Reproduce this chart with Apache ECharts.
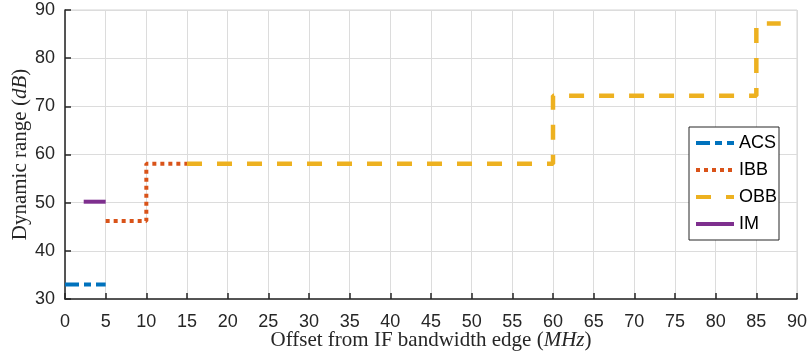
<!DOCTYPE html>
<html>
<head>
<meta charset="utf-8">
<script src="https://cdn.jsdelivr.net/npm/echarts@6/dist/echarts.min.js"></script>
<style>
html,body{margin:0;padding:0;background:#fff;}
#chart{width:809px;height:360px;}
</style>
</head>
<body>
<div id="chart"></div>
<script>
// 数据
var acsX = [0, 5];
var acsY = [33, 33];
var ibbX = [5, 10, 10, 15];
var ibbY = [46.2, 46.2, 58.1, 58.1];
var obbX = [15, 60, 60, 85, 85, 88];
var obbY = [58.1, 58.1, 72.2, 72.2, 87.2, 87.2];
var imX = [2.3, 5];
var imY = [50.2, 50.2];

function pairs(xs, ys){
    var arr = [];
    for (var i = 0; i < xs.length; i++) {
        arr.push([xs[i], ys[i]]);
    }
    return arr;
}

var chart = echarts.init(document.getElementById('chart'));
var labelFont = 'Liberation Sans, Arial, Helvetica, sans-serif';
var serifFont = 'Liberation Serif, Times New Roman, serif';

var option = {
    animation: false,
    backgroundColor: '#fff',
    grid: {
        left: 65, right: 12, top: 10, bottom: 61,
        containLabel: false,
        outerBoundsMode: 'none',
        show: true, borderColor: '#d4d4d4', borderWidth: 1
    },
    legend: {
        orient: 'vertical',
        left: 689, top: 127,
        itemWidth: 38, itemHeight: 14,
        itemGap: 9,
        padding: [7, 2, 7, 5],
        backgroundColor: '#fff',
        borderColor: '#262626',
        borderWidth: 1,
        borderRadius: 0,
        itemStyle: {opacity: 0},
        lineStyle: {width: 4},
        textStyle: {fontSize: 18, color: '#000', fontFamily: labelFont},
        data: ['ACS', 'IBB', 'OBB', 'IM']
    },
    xAxis: {
        type: 'value', min: 0, max: 90, interval: 5,
        name: 'Offset from IF bandwidth edge ({i|MHz})',
        nameLocation: 'middle', nameGap: 31,
        nameMoveOverlap: false,
        nameTextStyle: {
            fontSize: 21, color: '#262626', fontFamily: serifFont,
            rich: {i: {fontSize: 21, fontStyle: 'italic', fontFamily: serifFont, color: '#262626'}}
        },
        axisLine: {show: true, lineStyle: {color: '#262626', width: 1.5}},
        axisTick: {inside: true, length: 6, lineStyle: {color: '#262626', width: 1.5}},
        axisLabel: {fontSize: 18, color: '#262626', fontFamily: labelFont, margin: 14},
        splitLine: {show: true, lineStyle: {color: '#dcdcdc', width: 1}}
    },
    yAxis: {
        type: 'value', min: 30, max: 90, interval: 10,
        name: 'Dynamic range ({i|dB})',
        nameLocation: 'middle', nameGap: 34,
        nameMoveOverlap: false,
        nameTextStyle: {
            fontSize: 21, color: '#262626', fontFamily: serifFont,
            rich: {i: {fontSize: 21, fontStyle: 'italic', fontFamily: serifFont, color: '#262626'}}
        },
        axisLine: {show: true, lineStyle: {color: '#262626', width: 1.5}},
        axisTick: {inside: true, length: 6, lineStyle: {color: '#262626', width: 1.5}},
        axisLabel: {fontSize: 18, color: '#262626', fontFamily: labelFont, margin: 10},
        splitLine: {show: true, lineStyle: {color: '#dcdcdc', width: 1}}
    },
    series: [
        {
            name: 'ACS', type: 'line', symbol: 'none', data: pairs(acsX, acsY),
            itemStyle: {color: '#0072BD'},
            lineStyle: {color: '#0072BD', width: 4, type: [14, 5, 7, 5]}
        },
        {
            name: 'IBB', type: 'line', symbol: 'none', data: pairs(ibbX, ibbY),
            itemStyle: {color: '#D95319'},
            lineStyle: {color: '#D95319', width: 4, type: [4, 4]}
        },
        {
            name: 'OBB', type: 'line', symbol: 'none', data: pairs(obbX, obbY),
            itemStyle: {color: '#EDB120'},
            lineStyle: {color: '#EDB120', width: 4.5, type: [15, 15]}
        },
        {
            name: 'IM', type: 'line', symbol: 'none', data: pairs(imX, imY),
            itemStyle: {color: '#7E2F8E'},
            lineStyle: {color: '#7E2F8E', width: 4}
        }
    ]
};
chart.setOption(option);
</script>
</body>
</html>
